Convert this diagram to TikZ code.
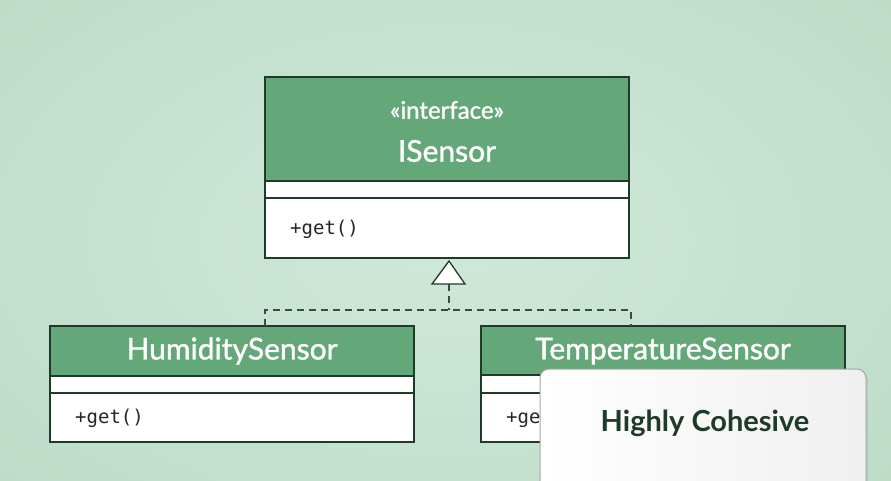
\documentclass[tikz,border=0pt]{standalone}
\usepackage{fontspec}
\setmainfont{Lato}
\newfontfamily\semib[FakeBold=1.3]{Lato}
\setmonofont{DejaVu Sans Mono}
\usetikzlibrary{shadows}
\definecolor{bgc}{HTML}{C9E6D4}
\definecolor{bgdark}{HTML}{A9CDB6}
\definecolor{hdr}{HTML}{64A779}
\definecolor{edge}{HTML}{1F3A28}
\definecolor{txt}{HTML}{1E3A2A}
\tikzset{
  hdrbox/.style={fill=hdr, draw=edge, line width=1.2pt},
  bodybox/.style={fill=white, draw=edge, line width=1.2pt},
  titletxt/.style={text=white, font=\semib\fontsize{30}{34}\selectfont},
  stereotxt/.style={text=white, font=\semib\fontsize{24}{28}\selectfont},
  methtxt/.style={text=black!85, font=\ttfamily\fontsize{19}{22}\selectfont, anchor=west, inner sep=1pt},
  dashline/.style={draw=edge!90, line width=1.3pt, dash pattern=on 7pt off 5pt},
  cardbox/.style={draw=gray!70, line width=1pt, rounded corners=9pt},
}
\begin{document}
\begin{tikzpicture}[x=1pt,y=-1pt]
\useasboundingbox (0,0) rectangle (891,481);
% background
\shade[inner color=bgc!70!white, outer color=bgdark] (-200,-150) rectangle (1091,631);
\clip (0,0) rectangle (891,481);
\fill[bgc, opacity=0.6] (0,0) rectangle (891,481);

% ISensor
\path[hdrbox] (265,77) rectangle (629,181);
\path[bodybox] (265,181) rectangle (629,198);
\path[bodybox] (265,198) rectangle (629,258);
\node[stereotxt] (istereo) at (447,110) {«interface»};
\node[titletxt] (iname) at (447,151) {ISensor};
\node[methtxt] (imeth) at (289,229) {+get()};

% HumiditySensor
\path[hdrbox] (50,326) rectangle (414,376);
\path[bodybox] (50,376) rectangle (414,393);
\path[bodybox] (50,393) rectangle (414,442);
\node[titletxt] (hname) at (232,351) {HumiditySensor};
\node[methtxt] (hmeth) at (74,418) {+get()};
\coordinate (hTop) at (265,326);

% TemperatureSensor
\path[hdrbox] (481,326) rectangle (845,375);
\path[bodybox] (481,375) rectangle (845,393);
\path[bodybox] (481,393) rectangle (845,442);
\node[titletxt] (tname) at (663,351) {TemperatureSensor};
\node[methtxt] (tmeth) at (505,418) {+get()};
\coordinate (tTop) at (631,326);

% realization connector
\coordinate (apex) at (449,261);
\coordinate (triL) at (432,284);
\coordinate (triR) at (465,284);
\coordinate (triB) at (449,284);
\coordinate (junc) at (449,310);
\coordinate (hCorner) at (265,310);
\coordinate (tCorner) at (631,310);
\draw[dashline] (triB) -- (junc);
\draw[dashline] (hTop) -- (hCorner) -- (tCorner) -- (tTop);
\draw[fill=white, draw=edge, line width=1.3pt, line join=miter] (apex) -- (triR) -- (triL) -- cycle;

% card
\path[cardbox, drop shadow={opacity=0.15, shadow xshift=2pt, shadow yshift=-2pt}, left color=white, right color=gray!12] (540,369) rectangle (866,500);
\node[text=txt, font=\bfseries\fontsize{29}{32}\selectfont] (card) at (705,423) {Highly Cohesive};
\end{tikzpicture}
\end{document}
